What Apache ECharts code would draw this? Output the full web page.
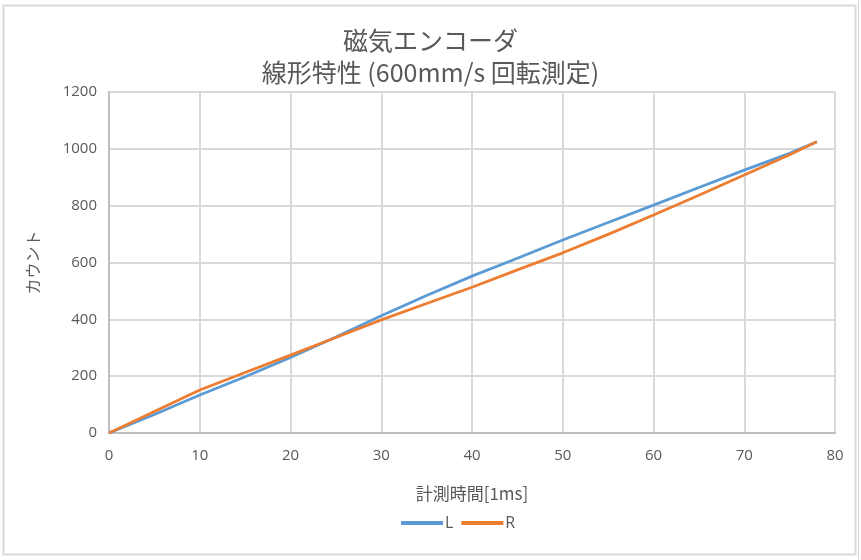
<!DOCTYPE html>
<html>
<head>
<meta charset="utf-8">
<script src="https://cdn.jsdelivr.net/npm/echarts@6/dist/echarts.min.js"></script>
<style>
  html, body { margin: 0; padding: 0; background: #fff; }
  #main { width: 861px; height: 560px; }
</style>
</head>
<body>
<div id="main"></div>
<script>
// 計測時間 [ms]
var times = [0, 5, 10, 15, 20, 25, 30, 35, 40, 45, 50, 55, 60, 65, 70, 75, 78];
// カウント
var countL = [0, 65, 134, 198, 266, 338, 413, 484, 552, 615, 679, 741, 802, 864, 925, 984, 1025];
var countR = [0, 76, 151, 213, 274, 336, 398, 456, 513, 574, 634, 699, 767, 837, 908, 979, 1025];

function pairs(xs, ys) {
  return xs.map(function (x, i) { return [x, ys[i]]; });
}

var chartDom = document.getElementById('main');
var myChart = echarts.init(chartDom);
var gray = '#595959';
var numFont = '"Open Sans", sans-serif';
var jpFont = '"Noto Sans CJK JP", sans-serif';

var option = {
  animation: false,
  backgroundColor: '#fff',
  title: {
    text: '磁気エンコーダ\n線形特性 (600mm/s 回転測定)',
    left: 'center',
    top: 19,
    textStyle: {
      color: gray,
      fontFamily: jpFont,
      fontWeight: 'normal',
      fontSize: 25,
      lineHeight: 32
    }
  },
  legend: {
    bottom: 24,
    left: 396,
    itemWidth: 42,
    itemHeight: 4,
    itemGap: 8,
    icon: 'rect',
    textStyle: { color: gray, fontFamily: numFont, fontSize: 16, padding: [0, 0, 0, -3] },
    data: ['L', 'R']
  },
  grid: { left: 109, right: 26, top: 92, bottom: 127 },
  xAxis: {
    type: 'value',
    min: 0,
    max: 80,
    interval: 10,
    name: '計測時間[1ms]',
    nameLocation: 'middle',
    nameGap: 52,
    nameTextStyle: { color: gray, fontFamily: jpFont, fontSize: 17 },
    axisLine: { lineStyle: { color: '#bfbfbf', width: 2 } },
    axisTick: { show: false },
    axisLabel: { color: gray, fontFamily: numFont, fontSize: 15, margin: 15 },
    splitLine: { lineStyle: { color: '#d9d9d9', width: 2 } }
  },
  yAxis: {
    type: 'value',
    min: 0,
    max: 1200,
    interval: 200,
    name: 'カウント',
    nameLocation: 'middle',
    nameGap: 68,
    nameTextStyle: { color: gray, fontFamily: jpFont, fontSize: 16 },
    axisLine: { show: true, lineStyle: { color: '#bfbfbf', width: 2 } },
    axisTick: { show: false },
    axisLabel: {
      color: gray,
      fontFamily: numFont,
      fontSize: 15,
      margin: 12,
      formatter: function (v) { return String(v); }
    },
    splitLine: { lineStyle: { color: '#d9d9d9', width: 2 } }
  },
  graphic: [
    {
      type: 'rect',
      shape: { x: 3.5, y: 5.5, width: 852, height: 549 },
      style: { fill: 'none', stroke: '#d9d9d9', lineWidth: 2 },
      z: -1
    },
    {
      type: 'line',
      shape: { x1: 858.5, y1: 0, x2: 858.5, y2: 560 },
      style: { stroke: '#d4d4d4', lineWidth: 1 },
      z: -1
    }
  ],
  series: [
    {
      name: 'L',
      type: 'line',
      showSymbol: false,
      symbol: 'none',
      color: '#5B9BD5',
      lineStyle: { width: 2.75 },
      data: pairs(times, countL)
    },
    {
      name: 'R',
      type: 'line',
      showSymbol: false,
      symbol: 'none',
      color: '#ED7D31',
      lineStyle: { width: 2.75 },
      data: pairs(times, countR)
    }
  ]
};

option && myChart.setOption(option);
</script>
</body>
</html>
